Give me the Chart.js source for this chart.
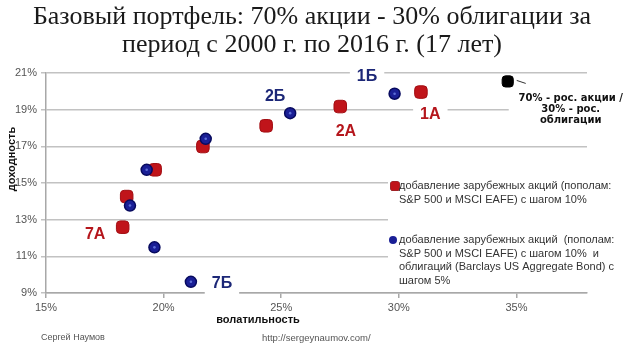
<!DOCTYPE html>
<html>
<head>
<meta charset="utf-8">
<script src="https://cdn.jsdelivr.net/npm/chart.js@4.4.1/dist/chart.umd.min.js"></script>
<style>
  html, body { margin: 0; padding: 0; background: #fff; }
</style>
</head>
<body>
<canvas id="chart" width="624" height="346"></canvas>
<script>
const titleLines = ['Базовый портфель: 70% акции - 30% облигации за', 'период с 2000 г. по 2016 г. (17 лет)'];
const xTicks = [15, 20, 25, 30, 35];
const yTicks = [9, 11, 13, 15, 17, 19, 21];

// А: добавление зарубежных акций (волатильность %, доходность %)
const volA = [30.94, 27.51, 24.36, 21.67, 19.64, 18.43, 18.26];
const retA = [19.96, 19.17, 18.12, 16.99, 15.72, 14.26, 12.59];
// Б: зарубежные акции + облигации
const volB = [29.82, 25.38, 21.79, 19.28, 18.57, 19.61, 21.16];
const retB = [19.87, 18.81, 17.41, 15.72, 13.77, 11.49, 9.61];
// базовый портфель 70/30
const baseVol = [34.63];
const baseRet = [20.54];

const legendA = ['добавление зарубежных акций (пополам:', 'S&P 500 и MSCI EAFE) с шагом 10%'];
const legendB = ['добавление зарубежных акций  (пополам:', 'S&P 500 и MSCI EAFE) с шагом 10%  и',
                 'облигаций (Barclays US Aggregate Bond) с', 'шагом 5%'];
const baseNote = ['70% - рос. акции /', '30% - рос.', 'облигации'];

// подписи точек: текст, серия, положение (волатильность, доходность)
const tagText = ['1Б', '2Б', '2А', '1А', '7А', '7Б'];
const tagSeries = ['B', 'B', 'A', 'A', 'A', 'B'];
const tagX = [28.65, 24.74, 27.75, 31.34, 17.09, 22.48];
const tagY = [20.81, 19.72, 17.81, 18.72, 12.16, 9.49];

const RED = '#c0141a', RED_EDGE = '#a20d12';
const BLUE = '#1a1f96', BLUE_EDGE = '#070a5e';
const TAG_COLORS = { A: '#b5161c', B: '#1c2777' };
const SANS = "'Liberation Sans', Arial, sans-serif";
const TICK_FONT = { family: SANS, size: 11 };
const GRID = '#c2c2c2', AXIS = '#a8a8a8';

const toPoints = (xs, ys) => xs.map((v, i) => ({ x: v, y: ys[i] }));

const decorations = {
  id: 'decorations',
  beforeDatasetsDraw(chart) {
    const { ctx, chartArea: a, scales: { x, y } } = chart;
    ctx.save();
    ctx.fillStyle = '#fff';
    // белые подложки под подписями разрывают линии сетки
    ctx.font = 'bold 16px ' + SANS;
    tagText.forEach((t, i) => {
      const px = x.getPixelForValue(tagX[i]);
      const py = y.getPixelForValue(tagY[i]);
      const w = ctx.measureText(t).width + 14;
      ctx.fillRect(px - w / 2, py - 12, w, 24);
    });
    ctx.fillRect(a.right - 199, a.top + 103, 240, 112);
    const bx = x.getPixelForValue(baseVol[0]);
    ctx.fillRect(bx + 1, a.top + 15, 120, 40);
    ctx.restore();
  },
  afterDatasetsDraw(chart) {
    // светлый блик в центре синих точек
    const { ctx } = chart;
    ctx.save();
    ctx.fillStyle = 'rgba(110, 130, 230, 0.8)';
    chart.getDatasetMeta(0).data.forEach(p => {
      ctx.beginPath();
      ctx.arc(p.x, p.y, 1.3, 0, Math.PI * 2);
      ctx.fill();
    });
    ctx.restore();
  },
  afterDraw(chart) {
    const { ctx, chartArea: a, scales: { x, y } } = chart;
    ctx.save();
    ctx.textAlign = 'center';
    ctx.textBaseline = 'middle';

    // заголовок
    ctx.fillStyle = '#1a1a1a';
    ctx.font = "26px 'Liberation Serif', serif";
    titleLines.forEach((t, i) => ctx.fillText(t, chart.width / 2, 17 + i * 28));

    // подписи точек
    ctx.font = 'bold 16px ' + SANS;
    tagText.forEach((t, i) => {
      ctx.fillStyle = TAG_COLORS[tagSeries[i]];
      ctx.fillText(t, x.getPixelForValue(tagX[i]), y.getPixelForValue(tagY[i]));
    });

    // пояснение к базовому портфелю
    const bx = x.getPixelForValue(baseVol[0]);
    const by = y.getPixelForValue(baseRet[0]);
    ctx.strokeStyle = '#333';
    ctx.lineWidth = 1;
    ctx.beginPath();
    ctx.moveTo(bx + 9, by - 1);
    ctx.lineTo(bx + 18, by + 2);
    ctx.stroke();
    ctx.fillStyle = '#111';
    ctx.font = "bold 10px 'DejaVu Sans', sans-serif";
    baseNote.forEach((t, i) => ctx.fillText(t, bx + 63, by + 17 + i * 11));

    // легенда
    ctx.textAlign = 'left';
    ctx.font = '11px ' + SANS;
    const lx = a.right - 188;
    const ly = a.top + 113;
    Chart.helpers.drawPoint(ctx, { pointStyle: 'rectRounded', radius: 5.5, rotation: 0, borderWidth: 0 }, lx - 4, ly);
    ctx.fillStyle = RED;
    ctx.fill();
    ctx.fillStyle = '#333';
    legendA.forEach((t, i) => ctx.fillText(t, lx, ly + i * 13.5));
    const ly2 = ly + 54;
    ctx.beginPath();
    ctx.arc(lx - 6, ly2, 4, 0, Math.PI * 2);
    ctx.fillStyle = BLUE;
    ctx.fill();
    ctx.fillStyle = '#333';
    legendB.forEach((t, i) => ctx.fillText(t, lx, ly2 + i * 13.5));

    // подписи осей
    ctx.fillStyle = '#111';
    ctx.font = 'bold 11px ' + SANS;
    ctx.textAlign = 'center';
    ctx.fillText('волатильность', 258, 320);
    ctx.save();
    ctx.translate(12, 159);
    ctx.rotate(-Math.PI / 2);
    ctx.fillText('доходность', 0, 0);
    ctx.restore();

    // подвал
    ctx.textAlign = 'left';
    ctx.fillStyle = '#555';
    ctx.font = '9px ' + SANS;
    ctx.fillText('Сергей Наумов', 41, 338);
    ctx.font = '9.5px ' + SANS;
    ctx.fillText('http://sergeynaumov.com/', 262, 338);

    ctx.restore();
  }
};

new Chart(document.getElementById('chart'), {
  type: 'scatter',
  data: {
    datasets: [
      {
        label: 'Б',
        data: toPoints(volB, retB),
        pointStyle: 'circle',
        pointRadius: 5.5,
        backgroundColor: BLUE,
        borderColor: BLUE_EDGE,
        borderWidth: 1.5
      },
      {
        label: 'А',
        data: toPoints(volA, retA),
        pointStyle: 'rectRounded',
        pointRadius: 7.3,
        backgroundColor: RED,
        borderColor: RED_EDGE,
        borderWidth: 1
      },
      {
        label: '70/30',
        data: toPoints(baseVol, baseRet),
        pointStyle: 'rectRounded',
        pointRadius: 6.5,
        backgroundColor: '#000',
        borderColor: '#000',
        borderWidth: 1
      }
    ]
  },
  options: {
    responsive: false,
    animation: false,
    layout: { padding: { left: 0, right: 37, top: 73, bottom: 0 } },
    plugins: {
      legend: { display: false },
      tooltip: { enabled: false },
      title: { display: false }
    },
    scales: {
      x: {
        type: 'linear',
        min: 15,
        max: 38,
        afterBuildTicks: s => { s.ticks = xTicks.map(v => ({ value: v })); },
        afterFit: s => { s.height = 53; },
        ticks: { callback: v => v + '%', font: TICK_FONT, color: '#555', padding: 3 },
        grid: { drawOnChartArea: false, tickLength: 5, color: AXIS, lineWidth: 1.5 },
        border: { color: AXIS, width: 1.5 }
      },
      y: {
        min: 9,
        max: 21,
        afterBuildTicks: s => { s.ticks = yTicks.map(v => ({ value: v })); },
        afterFit: s => { s.width = 46; },
        ticks: { callback: v => v + '%', font: TICK_FONT, color: '#555', padding: 4 },
        grid: { color: GRID, lineWidth: 1.5, tickLength: 5 },
        border: { color: AXIS, width: 1.5 }
      }
    }
  },
  plugins: [decorations]
});
</script>
</body>
</html>
